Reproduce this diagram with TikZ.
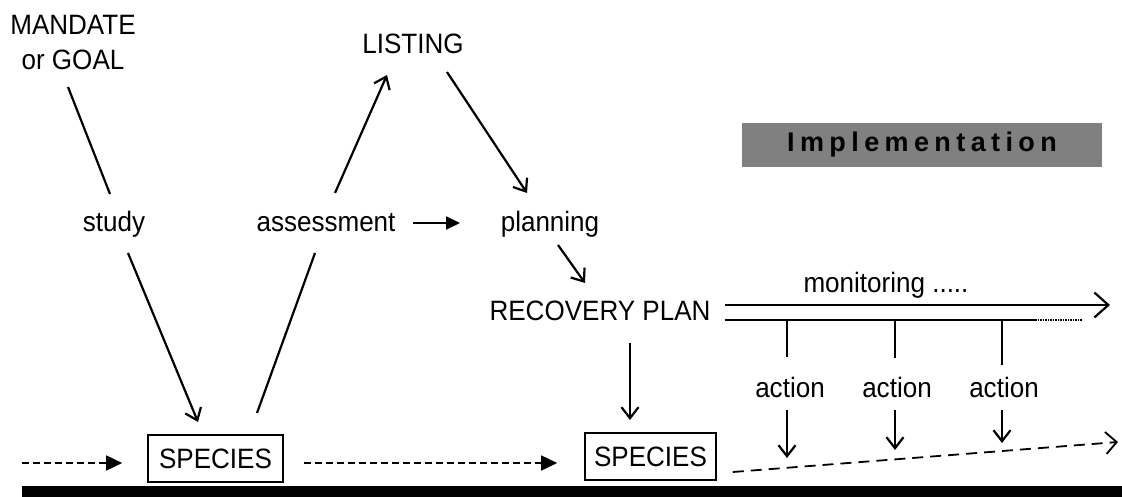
\documentclass[tikz,border=0pt]{standalone}
\usepackage{fontspec}
\setmainfont{Liberation Sans}[FakeStretch=0.93]
\newfontfamily\implfont[LetterSpace=20]{Liberation Sans}
\usetikzlibrary{arrows.meta}
\begin{document}
\begin{tikzpicture}[x=1pt,y=-1pt,
  lbl/.style={inner sep=0pt, font=\fontsize{28}{35}\selectfont},
  spbox/.style={lbl, draw, line width=1.6pt, minimum height=47pt},
  impl/.style={inner sep=0pt, fill=black!50, minimum width=360pt, minimum height=44pt,
    font=\implfont\bfseries\fontsize{27}{30}\selectfont},
  ln/.style={line width=2.2pt},
  openarr/.style={ln, -{Straight Barb[length=11pt,width=17pt]}},
  bigarr/.style={ln, -{Straight Barb[length=14pt,width=25pt]}},
  fillarr/.style={ln, -{Triangle[length=14pt,width=13pt]}},
  dasharr/.style={line width=1.6pt, dash pattern=on 7pt off 4pt, -{Triangle[length=16pt,width=15pt]}},
  futarr/.style={line width=1.8pt, dash pattern=on 11pt off 7pt, -{Straight Barb[length=11pt,width=22pt]}}
]
\useasboundingbox (0,0) rectangle (1122,497);

% nodes
\node[lbl, align=center] (mandate) at (73,42.5) {MANDATE\\or GOAL};
\node[lbl] (listing) at (413,44) {LISTING};
\node[lbl, anchor=base] (study) at (114,232) {study};
\node[lbl, anchor=base] (assess) at (326,232) {assessment};
\node[lbl, anchor=base] (planning) at (550,232) {planning};
\node[lbl] (recovery) at (600,311) {RECOVERY PLAN};
\node[lbl, anchor=base] (monitoring) at (886,292) {monitoring .....};
\node[impl] (impl) at (922,145) {Implementation};
\node[spbox, minimum width=135pt] (sp1) at (215.5,458.5) {SPECIES};
\node[spbox, minimum width=131pt] (sp2) at (650.5,456.5) {SPECIES};
\node[lbl, anchor=base] (a1) at (790,397) {action};
\node[lbl, anchor=base] (a2) at (897,397) {action};
\node[lbl, anchor=base] (a3) at (1004,397) {action};
\coordinate (past) at (22,463);
\coordinate (monend) at (1110,305);
\coordinate (lowend) at (1035,320);
\coordinate (lowdot) at (1082,320);
\coordinate (future) at (1118,442);

% connectors
\draw[ln] ([shift={(-5,44.5)}]mandate.center) -- ([shift={(-4,-38)}]study.base);
\draw[openarr] ([shift={(14,21)}]study.base) -- ([shift={(-17.5,-36.5)}]sp1.center);
\draw[ln] ([shift={(41.5,-45.5)}]sp1.center) -- ([shift={(-11,21)}]assess.base);
\draw[openarr] ([shift={(9,-39)}]assess.base) -- ([shift={(-26,31)}]listing.center);
\draw[openarr] ([shift={(34,28)}]listing.center) -- ([shift={(-23,-39)}]planning.base);
\draw[fillarr] ([shift={(87,-9)}]assess.base) -- ([shift={(-90,-9)}]planning.base);
\draw[openarr] ([shift={(8,13)}]planning.base) -- ([shift={(-15,-28)}]recovery.center);
\draw[openarr] ([shift={(30,32)}]recovery.center) -- ([shift={(-20.5,-36.5)}]sp2.center);

% monitoring double line
\draw[bigarr] ([shift={(14,-6)}]recovery.east) -- (monend);
\draw[ln] ([shift={(14,9)}]recovery.east) -- (lowend);
\draw[line width=1.5pt, densely dotted] (lowend) -- (lowdot);

% actions
\draw[ln] ([shift={(-3,-77)}]a1.base) -- ([shift={(-3,-40)}]a1.base);
\draw[ln] ([shift={(-2,-77)}]a2.base) -- ([shift={(-2,-39)}]a2.base);
\draw[ln] ([shift={(-2,-77)}]a3.base) -- ([shift={(-2,-32)}]a3.base);
\draw[openarr] ([shift={(-3,13)}]a1.base) -- ([shift={(-3,61)}]a1.base);
\draw[openarr] ([shift={(-2,13)}]a2.base) -- ([shift={(-2,53)}]a2.base);
\draw[openarr] ([shift={(-2,13)}]a3.base) -- ([shift={(-2,46)}]a3.base);

% species flow
\draw[dasharr] (past) -- ([shift={(-25,4.5)}]sp1.west);
\draw[dasharr] ([shift={(20,4.5)}]sp1.east) -- ([shift={(-27,6.5)}]sp2.west);
\draw[futarr] ([shift={(16,15.5)}]sp2.east) -- (future);

% ground bar
\fill (22,486) rectangle (1122,497);
\end{tikzpicture}
\end{document}
